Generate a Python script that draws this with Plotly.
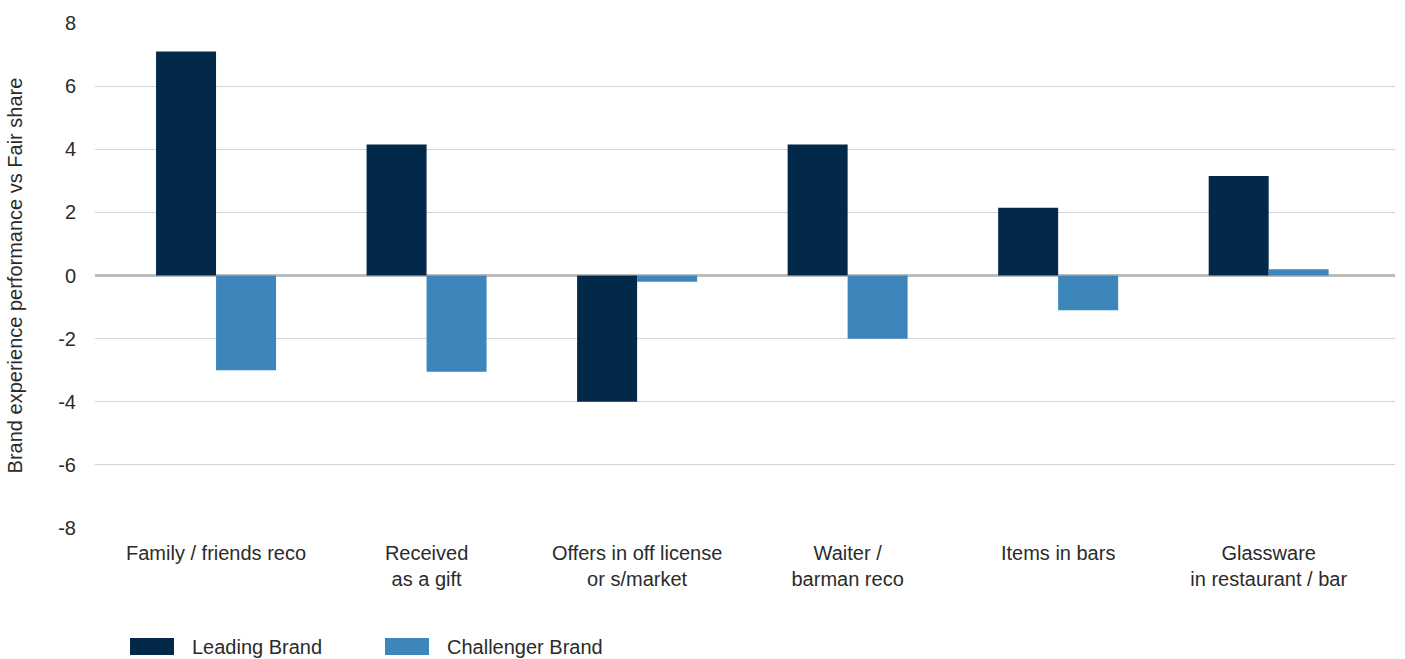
import plotly.graph_objects as go

categories = [
    "Family / friends reco",
    "Received<br>as a gift",
    "Offers in off license<br>or s/market",
    "Waiter /<br>barman reco",
    "Items in bars",
    "Glassware<br>in restaurant / bar",
]
leading_brand = [7.1, 4.15, -4.0, 4.15, 2.15, 3.15]
challenger_brand = [-3.0, -3.05, -0.2, -2.0, -1.1, 0.2]
y_ticks = [-8, -6, -4, -2, 0, 2, 4, 6, 8]
y_tick_labels = ["-8", "-6", "-4", "-2", "0", "2", "4", "6", "8"]

LEADING_COLOR = "#02284a"
CHALLENGER_COLOR = "#3d86bb"
TEXT_COLOR = "#2b2b2b"
FONT = "Liberation Sans, Arial, sans-serif"

fig = go.Figure()
fig.add_trace(go.Bar(x=categories, y=leading_brand, name="Leading Brand",
                     marker=dict(color=LEADING_COLOR, line=dict(width=0)),
                     showlegend=False))
fig.add_trace(go.Bar(x=categories, y=challenger_brand, name="Challenger Brand",
                     marker=dict(color=CHALLENGER_COLOR, line=dict(width=0)),
                     showlegend=False))

fig.update_layout(
    width=1405, height=659,
    margin=dict(l=95, r=10, t=23, b=131),
    paper_bgcolor="white", plot_bgcolor="white",
    barmode="group", bargap=0.43, bargroupgap=0,
    font=dict(family=FONT, size=20, color=TEXT_COLOR),
    xaxis=dict(
        range=[-0.575, 5.6],
        showgrid=False, zeroline=False, showline=False,
        ticks="outside", ticklen=7, tickcolor="rgba(0,0,0,0)",
        tickfont=dict(size=20, color=TEXT_COLOR),
    ),
    yaxis=dict(
        range=[-8, 8], tickvals=y_ticks, ticktext=y_tick_labels,
        showgrid=True, gridcolor="#d4d4d4", gridwidth=1,
        zeroline=True, zerolinecolor="#bdbdbd", zerolinewidth=3,
        showline=False,
        ticks="outside", ticklen=14, tickcolor="rgba(0,0,0,0)",
        tickfont=dict(size=20, color=TEXT_COLOR),
        title=dict(text="Brand experience performance vs Fair share",
                   font=dict(size=20, color=TEXT_COLOR), standoff=30),
    ),
)

# Legend drawn below the axis: swatch plus label for each series
legend_items = [("Leading Brand", LEADING_COLOR, 130), ("Challenger Brand", CHALLENGER_COLOR, 385)]
for label, color, x0 in legend_items:
    fig.add_shape(type="rect", xref="paper", yref="paper",
                  x0=(x0 - 95) / 1300, x1=(x0 + 44 - 95) / 1300,
                  y0=(528 - 655) / 505, y1=(528 - 638) / 505,
                  fillcolor=color, line=dict(width=0))
    fig.add_annotation(xref="paper", yref="paper",
                       x=(x0 + 60 - 95) / 1300, y=(528 - 647) / 505,
                       text=label, showarrow=False, xanchor="left", yanchor="middle",
                       font=dict(size=20, color=TEXT_COLOR))

fig.write_html("out.html")
